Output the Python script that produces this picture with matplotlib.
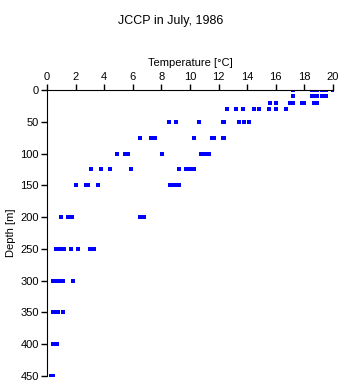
import matplotlib.pyplot as plt

plt.rcParams['font.family'] = ['Liberation Sans', 'DejaVu Sans']

depths = [0, 10, 20, 30, 50, 75, 100, 125, 150, 200, 250, 300, 350, 400, 450]
temps = [
    [17.2, 18.5, 18.7, 18.9, 19.2, 19.5, 20.0],
    [17.2, 18.5, 18.7, 18.9, 19.2, 19.5],
    [15.6, 16.0, 17.0, 17.2, 17.85, 17.95, 18.7, 18.85],
    [12.6, 13.2, 13.7, 14.5, 14.85, 15.5, 16.0, 16.7],
    [8.5, 9.0, 10.6, 12.3, 12.4, 13.45, 13.8, 14.15],
    [6.5, 7.3, 7.55, 10.3, 11.55, 11.7, 12.3, 12.4],
    [4.9, 5.45, 5.65, 8.05, 10.8, 11.05, 11.35],
    [3.1, 3.8, 4.4, 5.9, 9.2, 9.75, 9.9, 10.0, 10.3],
    [2.0, 2.7, 2.9, 3.6, 8.6, 8.8, 8.95, 9.25],
    [1.0, 1.5, 1.6, 1.75, 6.5, 6.65, 6.8],
    [0.6, 0.9, 1.05, 1.2, 1.7, 2.2, 3.0, 3.3],
    [0.45, 0.55, 0.7, 0.9, 1.1, 1.8],
    [0.45, 0.6, 0.75, 1.15],
    [0.4, 0.55, 0.7],
    [0.3, 0.45],
]

xs, ys = [], []
for d, row in zip(depths, temps):
    xs += row
    ys += [d] * len(row)

fig = plt.figure(figsize=(3.41, 3.84), dpi=100)
ax = fig.add_axes([47 / 341, 1 - 376 / 384, 286 / 341, 286 / 384])
ax.plot(xs, ys, 's', color='#0000ff', markersize=2.3, markeredgewidth=0,
        antialiased=False)

ax.set_xlim(0, 20)
ax.set_ylim(450, 0)
ax.set_xticks(range(0, 21, 2))
ax.set_yticks(range(0, 451, 50))
ax.xaxis.tick_top()
ax.xaxis.set_label_position('top')
ax.spines['right'].set_visible(False)
ax.spines['bottom'].set_visible(False)
ax.tick_params(direction='out', length=4, width=1, labelsize=8, pad=2)
ax.set_xlabel('Temperature [°C]', fontsize=8, labelpad=4)
ax.set_ylabel('Depth [m]', fontsize=8, labelpad=3)

fig.suptitle('JCCP in July, 1986', y=0.96, fontsize=9)

plt.savefig('out.png', dpi=100)
